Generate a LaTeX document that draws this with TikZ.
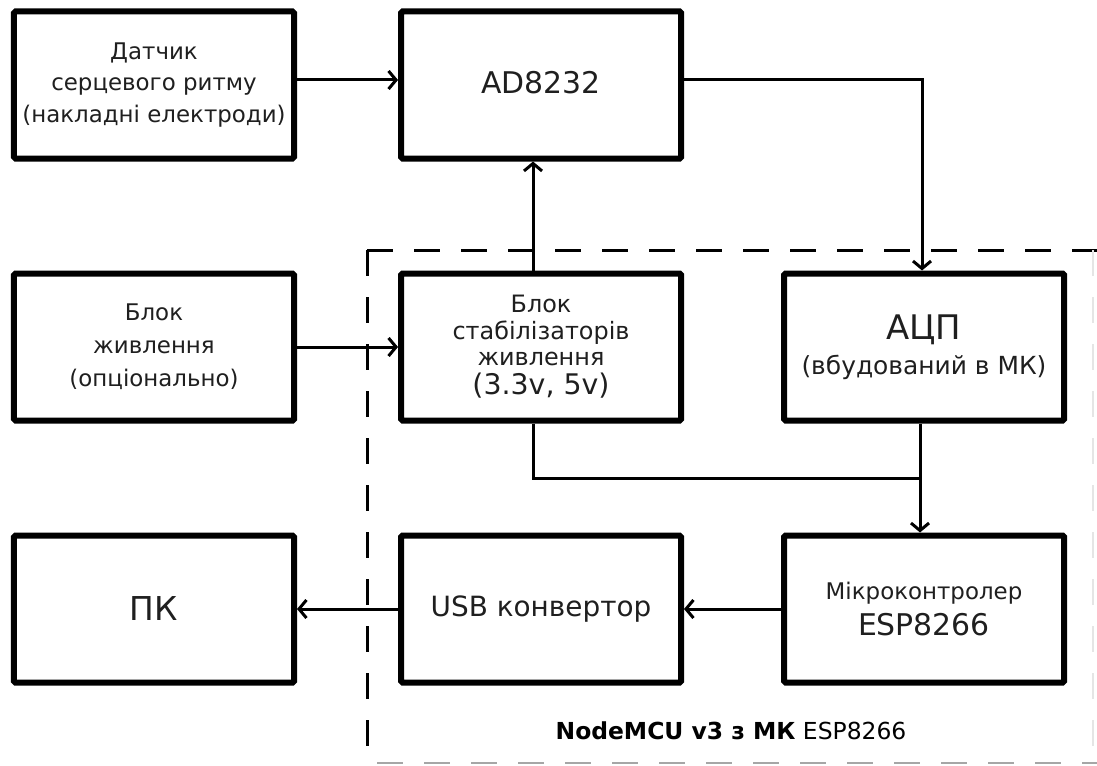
\documentclass[tikz,border=0pt]{standalone}
\usepackage{fontspec}
\setmainfont{DejaVu Sans}
\usetikzlibrary{arrows.meta,calc}
\begin{document}
\begin{tikzpicture}[x=1bp,y=-1bp,
  blk/.style={draw, line width=6bp, rounded corners=1.5bp, minimum width=280bp,
    minimum height=147bp, align=center, inner sep=0pt, text=black!88},
  conn/.style={line width=3bp, -{Straight Barb[length=7.5bp,width=18bp]}},
  wire/.style={line width=3bp},
  dashtop/.style={line width=3bp, dash pattern=on 26bp off 21bp},
  dashfaint/.style={line width=2.5bp, dash pattern=on 26bp off 21bp, draw=black!35},
  dashfainter/.style={line width=1.5bp, dash pattern=on 26bp off 21bp, draw=black!10},
  lbl/.style={font=\fontsize{23.5}{28}\selectfont, text=black}
]
\useasboundingbox (0,0) rectangle (1097,766);

% dashed NodeMCU frame
\coordinate (fc) at (367,250);
\draw[dashtop] (fc) -- (1097,250);
\draw[dashtop] (fc) -- (367,757);
\draw[dashfaint] (377,763) -- (1097,763);
\draw[dashfainter] (1093,250) -- (1093,763);

% boxes
\node[blk, font=\fontsize{23}{31.5}\selectfont] (dat) at (154,85) {Датчик\\серцевого ритму\\(накладні електроди)};
\node[blk, font=\fontsize{30}{36}\selectfont] (ad) at (541,85) {\raisebox{5bp}{AD8232}};
\node[blk, font=\fontsize{23}{33}\selectfont] (pwr) at (154,347) {Блок\\живлення\\(опціонально)};
\node[blk, font=\fontsize{24}{26.5}\selectfont] (stab) at (541,347) {Блок\\стабілізаторів\\живлення\\[3bp]{\fontsize{28.5}{30}\selectfont (3.3v, 5v)}};
\node[blk, font=\fontsize{25}{30}\selectfont] (adc) at (924,347) {{\fontsize{34}{38}\selectfont АЦП}\\[5bp](вбудований в МК)};
\node[blk, font=\fontsize{33}{36}\selectfont] (pk) at (154,609) {ПК};
\node[blk, font=\fontsize{28}{32}\selectfont] (usb) at (541,609) {USB конвертор};
\node[blk, font=\fontsize{23}{28}\selectfont] (mcu) at (924,609) {Мікроконтролер\\[9bp]{\fontsize{30}{34}\selectfont ESP8266}};

% label
\node[lbl] (nm) at (731,731) {\textbf{NodeMCU v3 з МК} ESP8266};

% connectors
\draw[conn] ($(dat.east)+(0,-5)$) -- ($(ad.west)+(0,-5)$);
\draw[conn] ($(ad.east)+(0,-5)$) -| ($(adc.north)+(-2,0)$);
\draw[conn] (pwr.east) -- (stab.west);
\draw[conn] ($(stab.north)+(-8,0)$) -- ($(ad.south)+(-8,0)$);
\coordinate (j) at ($(adc.south)+(-4,55)$);
\draw[wire] ($(stab.south)+(-8,0)$) |- (j);
\draw[conn] ($(adc.south)+(-4,0)$) -- ($(mcu.north)+(-4,0)$);
\draw[conn] (mcu.west) -- (usb.east);
\draw[conn] (usb.west) -- (pk.east);
\end{tikzpicture}
\end{document}
